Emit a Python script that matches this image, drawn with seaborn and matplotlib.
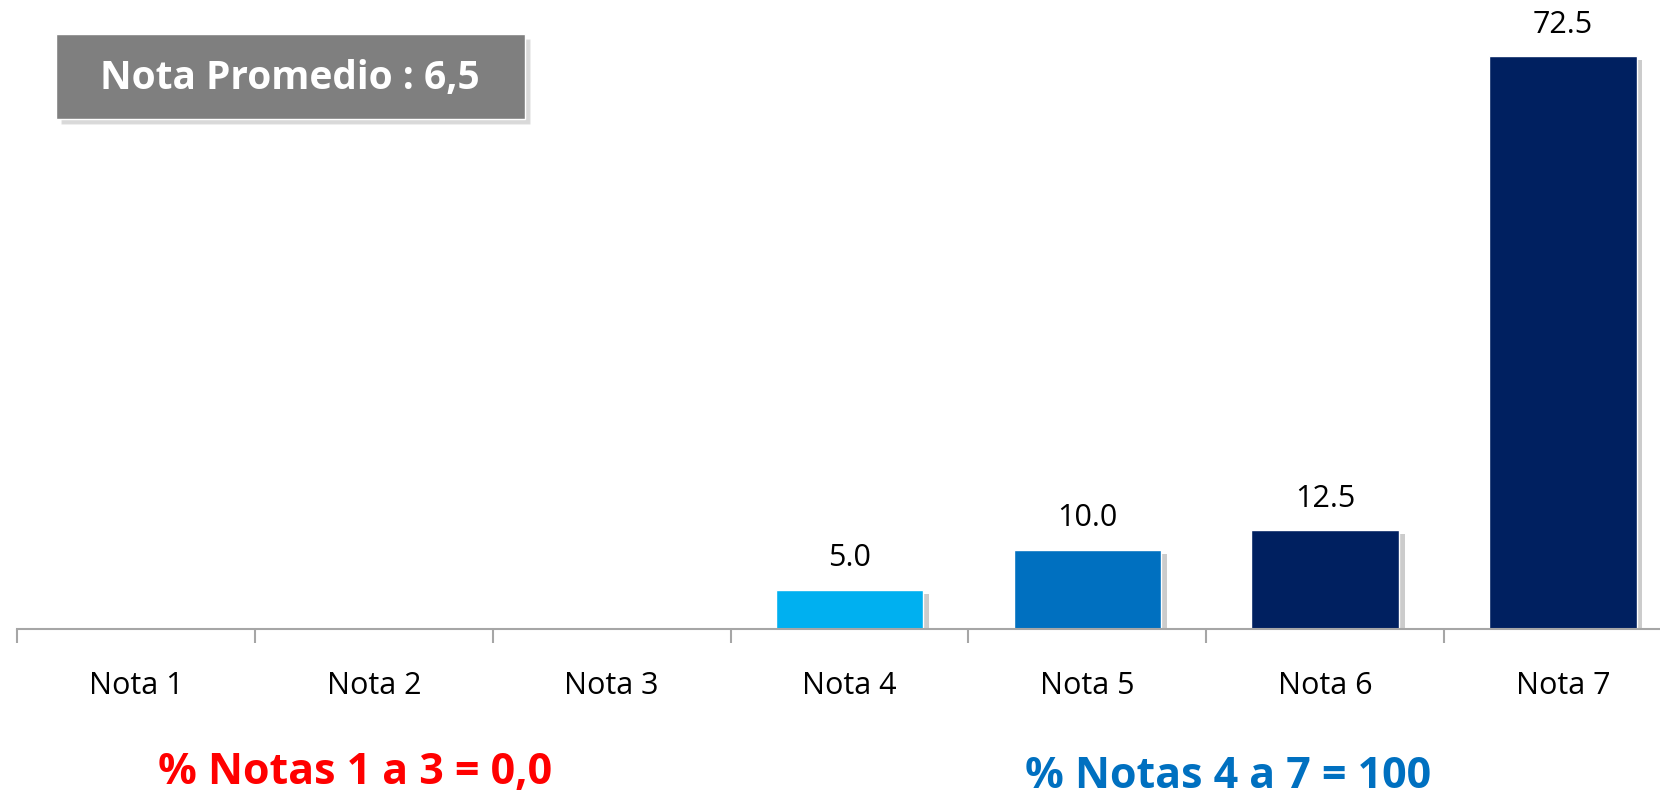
import matplotlib
matplotlib.use("Agg")
import matplotlib.pyplot as plt
import matplotlib.patheffects as pe
from matplotlib.patches import Rectangle
import seaborn as sns

categories = ["Nota 1", "Nota 2", "Nota 3", "Nota 4", "Nota 5", "Nota 6", "Nota 7"]
values = [0.0, 0.0, 0.0, 5.0, 10.0, 12.5, 72.5]
bar_colors = ["#00B0F0", "#00B0F0", "#00B0F0", "#00B0F0", "#0070C0", "#002060", "#002060"]
promedio_text = "Nota Promedio : 6,5"
low_text = "% Notas 1 a 3 = 0,0"
high_text = "% Notas 4 a 7 = 100"

sns.set_style("white")
plt.rcParams['font.family'] = ['Open Sans', 'DejaVu Sans']

fig = plt.figure(figsize=(16.6, 7.98), dpi=100)
ax = fig.add_axes([17 / 1660, 169 / 798, 1665 / 1660, 632 / 798])

sns.barplot(x=categories, y=values, hue=categories, palette=bar_colors,
            legend=False, width=0.62, saturation=1, ax=ax)

# soft drop shadow like the office chart
shadow = [pe.SimplePatchShadow(offset=(4, -3), shadow_rgbFace="#000000", alpha=0.2), pe.Normal()]
for patch in ax.patches:
    patch.set_path_effects(shadow)

ax.set_xlim(-0.5, 6.5)
ax.set_ylim(0, 80)

for i, v in enumerate(values):
    if v > 0:
        ax.annotate(f"{v:.1f}", (i, v), xytext=(0, 12), textcoords="offset points",
                    ha="center", va="bottom", fontsize=22, color="black")

sns.despine(ax=ax, left=True, top=True, right=True)
ax.spines["bottom"].set_color("#A6A6A6")
ax.spines["bottom"].set_linewidth(1.5)
ax.set_yticks([])
ax.set_xticks(range(len(categories)))
ax.set_xticklabels(categories, fontsize=22, color="black")
ax.tick_params(axis="x", which="major", length=0, pad=30)
ax.set_xticks([i - 0.5 for i in range(len(categories) + 1)], minor=True)
ax.tick_params(axis="x", which="minor", bottom=True, length=10, width=1.5,
               color="#A6A6A6", direction="out")
ax.set_xlabel("")
ax.set_ylabel("")

# gray box with shadow
fig.patches.append(Rectangle((61 / 1660, 1 - 124 / 798), 469 / 1660, 85 / 798,
                             transform=fig.transFigure, facecolor="#000000", alpha=0.15, zorder=1))
fig.patches.append(Rectangle((56 / 1660, 1 - 119 / 798), 469 / 1660, 85 / 798,
                             transform=fig.transFigure, facecolor="#7F7F7F", zorder=2))
fig.text(290 / 1660, 1 - 78 / 798, promedio_text, ha="center", va="center",
         fontsize=28, fontweight="bold", color="white", zorder=3)

fig.text(355 / 1660, 1 - 772 / 798, low_text, ha="center", va="center",
         fontsize=31, fontweight="bold", color="#FF0000")
fig.text(1228 / 1660, 1 - 776 / 798, high_text, ha="center", va="center",
         fontsize=31, fontweight="bold", color="#0070C0")

fig.savefig("out.png", dpi=100)
